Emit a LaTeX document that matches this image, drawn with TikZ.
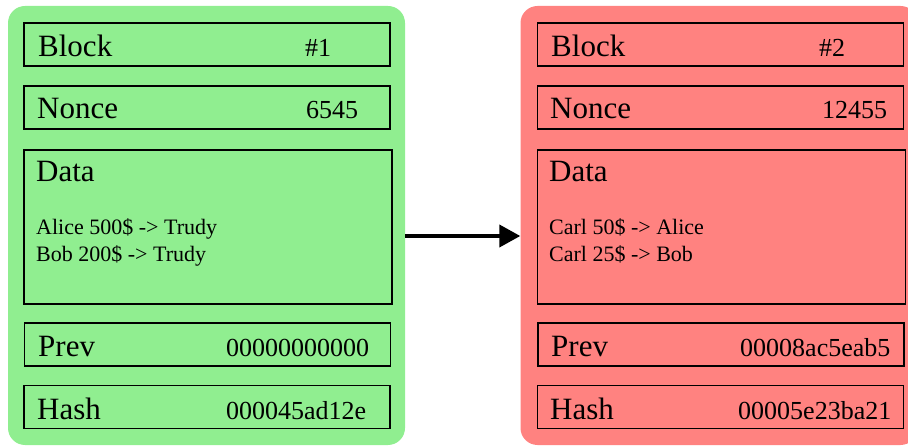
\documentclass[tikz,border=0pt]{standalone}
\usepackage{fontspec}
\setmainfont{Liberation Serif}
\usepackage{tikz}
\usepackage{xcolor}
\usetikzlibrary{arrows.meta}
\definecolor{okCol}{RGB}{144,238,144}
\definecolor{badCol}{RGB}{255,130,128}

\tikzset{
  chainbox/.style={rounded corners=17pt, minimum width=397pt, minimum height=439pt, inner sep=0pt},
  fieldbox/.style={draw=black, line width=1.6pt, minimum width=366pt, minimum height=43pt, inner sep=0pt},
  databox/.style={fieldbox, minimum width=368pt, minimum height=154pt},
  fieldname/.style={anchor=base west, inner sep=0pt, font=\fontsize{31}{37}\selectfont},
  fieldval/.style={anchor=base west, inner sep=0pt, font=\fontsize{26}{31}\selectfont},
  txline/.style={anchor=base west, inner sep=0pt, font=\fontsize{22}{26}\selectfont}
}

\begin{document}
\begin{tikzpicture}[x=1pt, y=-1pt]
%--------------------------------------------------
\useasboundingbox (0,0) rectangle (908,446);

% the two blocks of the chain
\node [chainbox, fill=okCol] (blockA) at (206.5,225.5) {};
\node [chainbox, fill=badCol] (blockB) at (719,225.5) {};


% fields of block #1
\node [fieldbox] (numA) at (207,44.5) {};
\node [fieldname] (numAname) at (38,57) {Block};
\node [fieldval] (numAval) at (305,57) {\#1};

\node [fieldbox] (nonceA) at (207,107.5) {};
\node [fieldname] (nonceAname) at (37,119) {Nonce};
\node [fieldval] (nonceAval) at (306,119) {6545};

\node [databox] (dataA) at (208,227) {};
\node [fieldname] (dataAname) at (36,182) {Data};
\node [txline] (txAone) at (36,235) {Alice 500\$ -> Trudy};
\node [txline] (txAtwo) at (36,262) {Bob 200\$ -> Trudy};

\node [fieldbox] (prevA) at (207.5,344.5) {};
\node [fieldname] (prevAname) at (38,357) {Prev};
\node [fieldval] (prevAval) at (226,357) {00000000000};

\node [fieldbox] (hashA) at (207,407) {};
\node [fieldname] (hashAname) at (37,419) {Hash};
\node [fieldval] (hashAval) at (226,419) {000045ad12e};


% fields of block #2
\node [fieldbox] (numB) at (720.5,44.5) {};
\node [fieldname] (numBname) at (551,57) {Block};
\node [fieldval] (numBval) at (819,57) {\#2};

\node [fieldbox] (nonceB) at (720.5,107.5) {};
\node [fieldname] (nonceBname) at (550,119) {Nonce};
\node [fieldval] (nonceBval) at (822,119) {12455};

\node [databox] (dataB) at (721.5,227) {};
\node [fieldname] (dataBname) at (549,182) {Data};
\node [txline] (txBone) at (549,235) {Carl 50\$ -> Alice};
\node [txline] (txBtwo) at (549,262) {Carl 25\$ -> Bob};

\node [fieldbox] (prevB) at (721,344.5) {};
\node [fieldname] (prevBname) at (551,357) {Prev};
\node [fieldval] (prevBval) at (740,357) {00008ac5eab5};

\node [fieldbox] (hashB) at (720.5,407) {};
\node [fieldname] (hashBname) at (550,419) {Hash};
\node [fieldval] (hashBval) at (738,419) {00005e23ba21};


% link from block #1 to block #2
\draw [line width=4pt, -{Triangle[length=21pt, width=22pt]}] ([yshift=-10.5pt]blockA.east) -- ([yshift=-10.5pt]blockB.west);

%--------------------------------------------------
\end{tikzpicture}
\end{document}
